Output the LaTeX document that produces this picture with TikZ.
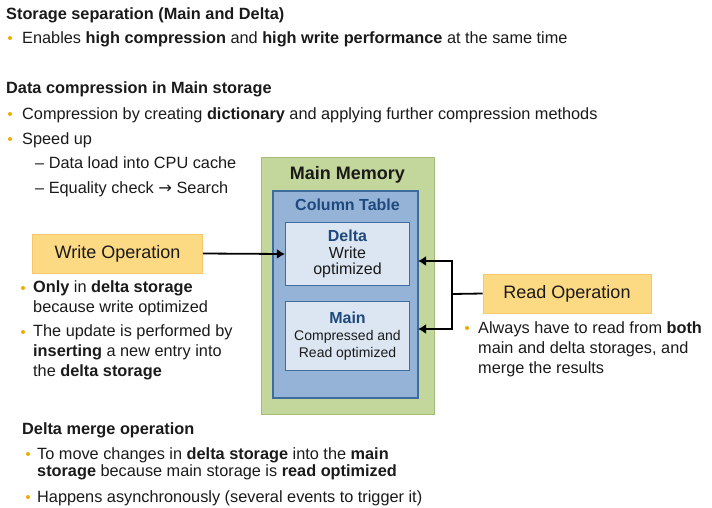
\documentclass[tikz,border=0pt]{standalone}
\usepackage{fontspec}
\setmainfont{Liberation Sans}
\newfontfamily\symfont{DejaVu Sans}
\usepackage{tikz}
\usetikzlibrary{positioning,arrows.meta}

\definecolor{sapgold}{HTML}{F0AB00}
\definecolor{memgreen}{HTML}{C3D69B}
\definecolor{memedge}{HTML}{A3BD78}
\definecolor{tblblue}{HTML}{95B3D7}
\definecolor{tbledge}{HTML}{3E6C9F}
\definecolor{storefill}{HTML}{DCE6F2}
\definecolor{titleblue}{HTML}{1F497D}
\definecolor{opfill}{HTML}{FCD983}
\definecolor{opedge}{HTML}{F6C86A}
\definecolor{ink}{HTML}{1A1A1A}

\begin{document}
\begin{tikzpicture}[x=1pt, y=-1pt,
      txt/.style={anchor=base west, inner sep=0pt, align=left, text=ink, font=\fontsize{16.3}{20}\selectfont},
      hd/.style={txt, font=\fontsize{16.3}{20}\selectfont\bfseries},
      dot/.style={circle, fill=sapgold, inner sep=0pt, minimum size=4pt},
      mem/.style={rectangle, draw=memedge, fill=memgreen, line width=1pt, minimum width=173pt, minimum height=257pt},
      tbl/.style={rectangle, draw=tbledge, fill=tblblue, line width=1.2pt, minimum width=145pt, minimum height=207pt},
      store/.style={rectangle, draw=tbledge, fill=storefill, line width=1.2pt, minimum width=124pt, align=center, text=ink, inner sep=0pt},
      op/.style={rectangle, draw=opedge, fill=opfill, line width=1pt, minimum width=170pt, minimum height=39pt, text=ink, font=\fontsize{18}{20}\selectfont},
      arr/.style={line width=1.8pt, -{Latex[length=8pt,width=10pt]}},
      line/.style={line width=1.8pt},
    ]
    \useasboundingbox (0,0) rectangle (712,507);

    % Top text
    \node[hd] (sep) at (6,19) {Storage separation (Main and Delta)};
    \node[dot] (d1) at (10,38) {};
    \node[txt] (sep1) at (22,43) {Enables \textbf{high compression} and \textbf{high write performance} at the same time};
    \node[hd] (comp) at (6,93) {Data compression in Main storage};
    \node[dot] (d2) at (10,114) {};
    \node[txt] (comp1) at (22,119) {Compression by creating \textbf{dictionary} and applying further compression methods};
    \node[dot] (d3) at (10,139) {};
    \node[txt] (comp2) at (22,144) {Speed up};
    \node[txt] (comp3) at (35,168) {– Data load into CPU cache};
    \node[txt] (comp4) at (35,193) {– Equality check {\symfont →} Search};

    % Memory boxes
    \node[mem] (mem) at (347.5,285.5) {};
    \node[tbl] (tbl) at (345.5,294.5) {};
    \node[anchor=base, font=\fontsize{18}{20}\selectfont\bfseries, text=ink] (memtitle) at (347.5,179) {Main Memory};
    \node[anchor=base, font=\fontsize{16}{20}\selectfont\bfseries, text=titleblue] (tbltitle) at (347.5,210) {Column Table};
    \node[store, minimum height=63pt, font=\fontsize{16}{16.5}\selectfont] (delta) at (347.5,254)
      {\textcolor{titleblue}{\bfseries Delta}\\Write\\optimized};
    \node[store, minimum height=69pt, font=\fontsize{14}{17}\selectfont] (main) at (347.5,336)
      {\textcolor{titleblue}{\fontsize{16}{17}\selectfont\bfseries Main}\\Compressed and\\Read optimized};

    % Write side (multi-line texts sit on their last baseline)
    \node[op] (write) at (117.5,253.5) {Write Operation};
    \node[dot] (d4) at (23,288) {};
    \node[txt] (w1) at (33,312.7) {\textbf{Only} in \textbf{delta storage}\\because write optimized};
    \node[dot] (d5) at (23,332) {};
    \node[txt] (w2) at (33,376.7) {The update is performed by\\\textbf{inserting} a new entry into\\the \textbf{delta storage}};

    % Read side
    \node[op, minimum width=168pt] (read) at (567,293.5) {Read Operation};
    \node[dot] (d6) at (467,328) {};
    \node[txt] (r1) at (478,373.3) {Always have to read from \textbf{both}\\main and delta storages, and\\merge the results};

    % Merge text
    \node[hd] (merge) at (22,434) {Delta merge operation};
    \node[dot] (d7) at (28,454) {};
    \node[txt, font=\fontsize{16.3}{17.7}\selectfont] (m1) at (37,476.7) {To move changes in \textbf{delta storage} into the \textbf{main}\\\textbf{storage} because main storage is \textbf{read optimized}};
    \node[dot] (d8) at (28,497) {};
    \node[txt] (m2) at (37,502) {Happens asynchronously (several events to trigger it)};

    % Arrows
    \coordinate (rj) at (452,294);
    \coordinate (rtop) at (418,261);
    \coordinate (rbot) at (418,329);
    \draw[arr] (write.east) -- (delta.west);
    \draw[line] (read.west) -- (rj);
    \draw[arr] (rj) |- (rtop);
    \draw[arr] (rj) |- (rbot);
  \end{tikzpicture}
\end{document}
